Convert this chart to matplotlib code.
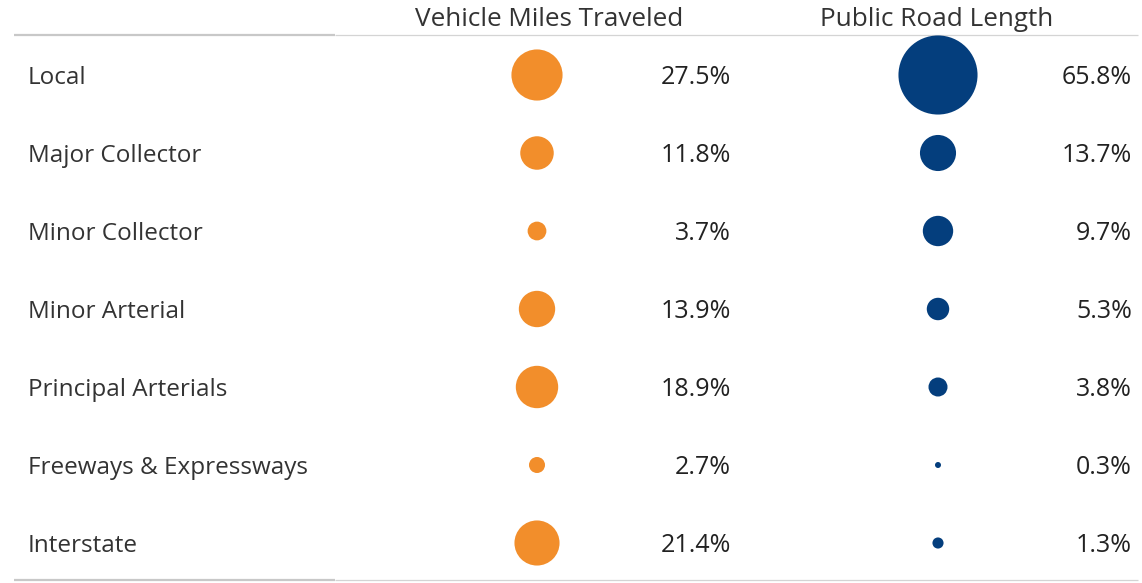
import numpy as np
import matplotlib
matplotlib.use("Agg")
import matplotlib.pyplot as plt

# road functional classes, top to bottom
categories = ["Local", "Major Collector", "Minor Collector", "Minor Arterial",
              "Principal Arterials", "Freeways & Expressways", "Interstate"]
vmt_pct = [27.5, 11.8, 3.7, 13.9, 18.9, 2.7, 21.4]
road_pct = [65.8, 13.7, 9.7, 5.3, 3.8, 0.3, 1.3]
column_titles = ["Vehicle Miles Traveled", "Public Road Length"]

ORANGE = "#f28e2b"
BLUE = "#043e7d"
TEXT = "#333333"

plt.rcParams["font.family"] = ["Open Sans", "DejaVu Sans"]

W, H = 1142, 583
fig = plt.figure(figsize=(W / 100, H / 100), dpi=100)
ax = fig.add_axes([0, 0, 1, 1])
# x in pixels, y in row units (row 0 centred at pixel 75, 78 px per row)
row0, step = 75, 78
ax.set_xlim(0, W)
ax.set_ylim((H - row0) / step, -row0 / step)
ax.axis("off")

rows = np.arange(len(categories))


def px_y(p):
    return (p - row0) / step


def size_pts2(v):
    # circle area proportional to the share
    d_px = 9.75 * np.sqrt(np.asarray(v))
    d_px = np.maximum(d_px, 6)
    return (d_px * 0.72) ** 2


col_x = [537, 938]
pct_x = [731, 1132]
head_x = [549, 937]
nudge = 2.5 / step  # text sits a touch low in the original

for series, cx, tx, hx, title, color in zip([vmt_pct, road_pct], col_x, pct_x,
                                             head_x, column_titles, [ORANGE, BLUE]):
    ax.scatter(np.full(len(rows), cx), rows, s=size_pts2(series), color=color,
               linewidths=0, zorder=3)
    for r, v in zip(rows, series):
        ax.text(tx, r + nudge, f"{v:.1f}%", ha="right", va="center",
                fontsize=18, color="#222222")
    ax.text(hx, px_y(19), title, ha="center", va="center", fontsize=18.8,
            color=TEXT)

for r, name in zip(rows, categories):
    ax.text(28, r + nudge, name, ha="left", va="center", fontsize=17.5,
            color=TEXT)

# header / footer rules
for yp in (35, 580):
    ax.plot([14, 335], [px_y(yp)] * 2, color="#c8c8c8", lw=1.6, zorder=1,
            solid_capstyle="butt")
    ax.plot([335, 1138], [px_y(yp)] * 2, color="#d4d4d4", lw=0.9, zorder=1,
            solid_capstyle="butt")

fig.savefig("out.png", dpi=100)
